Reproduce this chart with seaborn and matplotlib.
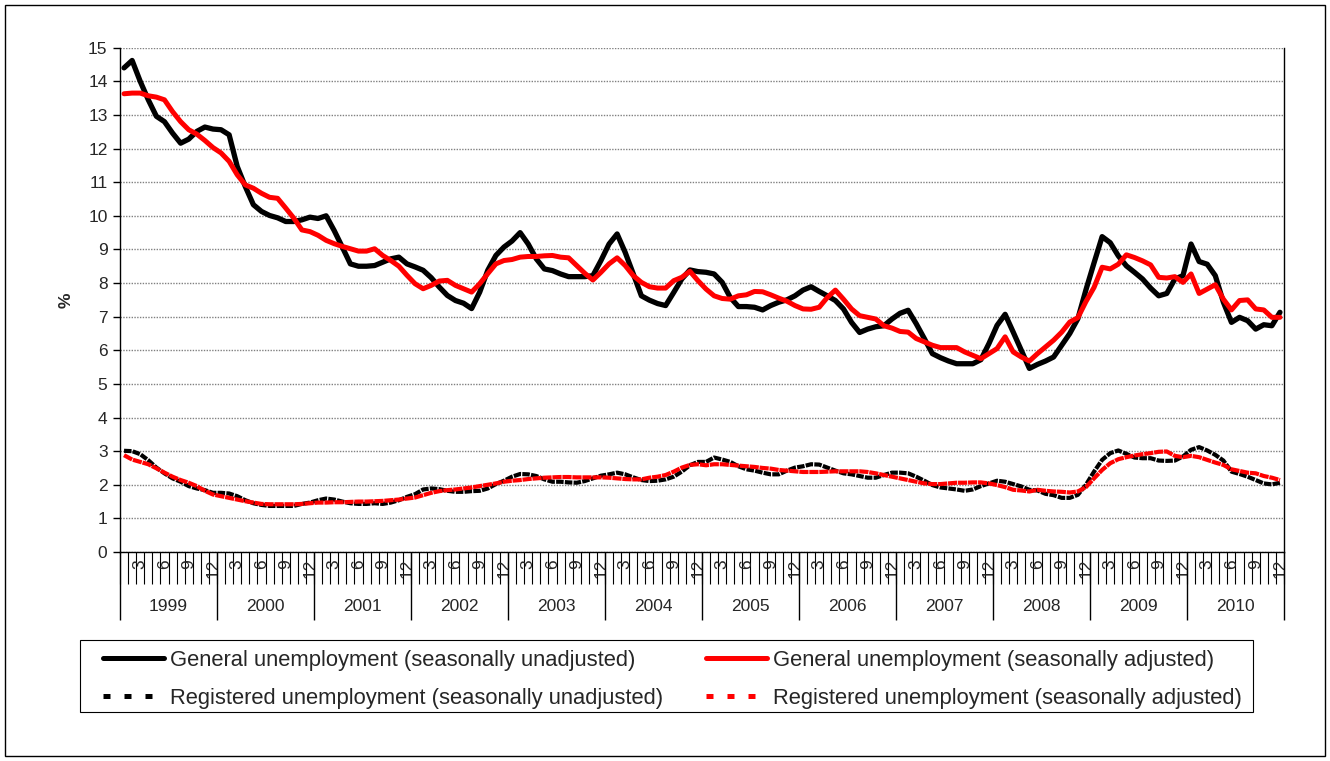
import numpy as np
import pandas as pd
import matplotlib.pyplot as plt
import seaborn as sns
from matplotlib.lines import Line2D
from matplotlib.patches import Rectangle

# Monthly unemployment rates 1999-2010 (%)

years = list(range(1999, 2011))
month_labels = [3, 6, 9, 12]

general_unadj = [
    14.4, 14.62, 14.0, 13.45, 12.96, 12.8, 12.46, 12.16, 12.28, 12.51, 12.64, 12.58,
    12.56, 12.41, 11.47, 10.87, 10.33, 10.13, 10.01, 9.94, 9.83, 9.83, 9.88, 9.96,
    9.92, 10.0, 9.56, 9.07, 8.57, 8.5, 8.5, 8.52, 8.62, 8.72, 8.77, 8.57,
    8.48, 8.38, 8.16, 7.88, 7.63, 7.48, 7.4, 7.24, 7.73, 8.38, 8.82, 9.07,
    9.25, 9.5, 9.16, 8.72, 8.42, 8.37, 8.27, 8.19, 8.19, 8.19, 8.22, 8.67,
    9.16, 9.46, 8.91, 8.27, 7.62, 7.49, 7.39, 7.33, 7.72, 8.12, 8.39, 8.34,
    8.32, 8.27, 8.02, 7.57, 7.3, 7.3, 7.28, 7.2, 7.33, 7.43, 7.5, 7.62,
    7.79, 7.89, 7.75, 7.62, 7.48, 7.23, 6.83, 6.53, 6.63, 6.7, 6.73, 6.93,
    7.1, 7.19, 6.79, 6.35, 5.9, 5.78, 5.68, 5.6, 5.6, 5.6, 5.72, 6.2,
    6.74, 7.07, 6.54, 6.0, 5.46, 5.58, 5.68, 5.8, 6.15, 6.5, 6.94, 7.8,
    8.6, 9.38, 9.2, 8.81, 8.51, 8.32, 8.12, 7.85, 7.62, 7.69, 8.12, 8.22,
    9.16, 8.64, 8.56, 8.22, 7.43, 6.83, 6.98, 6.88, 6.63, 6.76, 6.73, 7.13,
]

general_adj = [
    13.63, 13.65, 13.65, 13.57, 13.53, 13.45, 13.1, 12.8, 12.56, 12.43, 12.24, 12.03,
    11.87, 11.62, 11.22, 10.92, 10.82, 10.67, 10.55, 10.52, 10.23, 9.93, 9.58, 9.53,
    9.42, 9.27, 9.17, 9.09, 9.02, 8.95, 8.95, 9.02, 8.82, 8.67, 8.5, 8.23,
    7.98, 7.83, 7.93, 8.06, 8.08, 7.93, 7.83, 7.73, 7.98, 8.28, 8.57, 8.67,
    8.7, 8.77, 8.79, 8.79, 8.81, 8.82, 8.77, 8.75, 8.52, 8.29, 8.09, 8.32,
    8.57, 8.75, 8.52, 8.22, 8.02, 7.89, 7.85, 7.85, 8.07, 8.17, 8.35, 8.07,
    7.82, 7.62, 7.54, 7.52, 7.62, 7.65, 7.75, 7.74, 7.65, 7.55, 7.46, 7.33,
    7.23, 7.22, 7.28, 7.57, 7.79, 7.52, 7.23, 7.03, 6.98, 6.93, 6.73, 6.66,
    6.56, 6.54, 6.35, 6.25, 6.15, 6.08, 6.08, 6.08, 5.95, 5.85, 5.75, 5.9,
    6.05, 6.4, 5.95, 5.8, 5.68, 5.9, 6.1, 6.3, 6.54, 6.84, 6.97, 7.45,
    7.87, 8.47, 8.42, 8.56, 8.84, 8.76, 8.66, 8.54, 8.17, 8.15, 8.19, 8.02,
    8.27, 7.69, 7.82, 7.95, 7.52, 7.2, 7.48, 7.5, 7.23, 7.2, 6.98, 6.98,
]

registered_unadj = [
    3.01, 3.0, 2.91, 2.73, 2.51, 2.34, 2.19, 2.09, 1.96, 1.89, 1.84, 1.76,
    1.76, 1.74, 1.66, 1.54, 1.45, 1.4, 1.37, 1.37, 1.37, 1.37, 1.43, 1.47,
    1.54, 1.59, 1.56, 1.5, 1.45, 1.43, 1.43, 1.45, 1.43, 1.47, 1.54, 1.64,
    1.72, 1.86, 1.89, 1.87, 1.82, 1.79, 1.79, 1.81, 1.82, 1.89, 2.02, 2.12,
    2.24, 2.32, 2.31, 2.26, 2.16, 2.09, 2.09, 2.07, 2.06, 2.11, 2.19, 2.27,
    2.31, 2.36, 2.31, 2.22, 2.14, 2.11, 2.12, 2.16, 2.24, 2.39, 2.58, 2.68,
    2.68, 2.81, 2.75, 2.68, 2.55, 2.46, 2.42, 2.36, 2.31, 2.31, 2.42, 2.51,
    2.55, 2.61, 2.6, 2.51, 2.42, 2.34, 2.31, 2.26, 2.21, 2.21, 2.29, 2.36,
    2.36, 2.34, 2.24, 2.12, 1.99, 1.92, 1.89, 1.86, 1.82, 1.86, 1.96, 2.04,
    2.12, 2.09, 2.02, 1.95, 1.85, 1.83, 1.73, 1.69, 1.61, 1.61, 1.7, 2.0,
    2.39, 2.74, 2.94, 3.02, 2.92, 2.81, 2.79, 2.79, 2.72, 2.71, 2.72, 2.84,
    3.04, 3.12, 3.02, 2.89, 2.72, 2.39, 2.32, 2.24, 2.14, 2.04, 2.01, 2.06,
]

registered_adj = [
    2.88, 2.75, 2.68, 2.61, 2.49, 2.36, 2.24, 2.14, 2.06, 1.96, 1.82, 1.71,
    1.66, 1.61, 1.56, 1.51, 1.47, 1.43, 1.42, 1.42, 1.42, 1.42, 1.43, 1.45,
    1.47, 1.47, 1.48, 1.48, 1.49, 1.5, 1.5, 1.51, 1.52, 1.54, 1.56, 1.59,
    1.62, 1.69, 1.76, 1.81, 1.84, 1.86, 1.89, 1.92, 1.96, 2.0, 2.04, 2.09,
    2.12, 2.14, 2.17, 2.19, 2.21, 2.22, 2.23, 2.23, 2.22, 2.22, 2.22, 2.22,
    2.21, 2.19, 2.17, 2.16, 2.16, 2.21, 2.24, 2.29, 2.39, 2.51, 2.59, 2.61,
    2.58, 2.61, 2.61, 2.59, 2.57, 2.55, 2.53, 2.5, 2.48, 2.44, 2.42, 2.4,
    2.38, 2.38, 2.38, 2.39, 2.4, 2.4, 2.4, 2.4, 2.38, 2.34, 2.29, 2.24,
    2.19, 2.14, 2.09, 2.04, 2.02, 2.02, 2.04, 2.06, 2.06, 2.07, 2.07, 2.04,
    1.99, 1.93, 1.85, 1.83, 1.8, 1.85, 1.82, 1.8, 1.79, 1.77, 1.8, 1.93,
    2.19, 2.44, 2.64, 2.76, 2.82, 2.87, 2.91, 2.94, 2.98, 2.99, 2.86, 2.82,
    2.86, 2.82, 2.74, 2.66, 2.59, 2.46, 2.41, 2.36, 2.34, 2.26, 2.21, 2.14,
]

legend_labels = [
    "General unemployment (seasonally unadjusted)",
    "Registered unemployment (seasonally unadjusted)",
    "General unemployment (seasonally adjusted)",
    "Registered unemployment (seasonally adjusted)",
]

# long table: one row per month
df = pd.DataFrame({
    "year": np.repeat(years, 12),
    "month": np.tile(np.arange(1, 13), len(years)),
    "general_unadj": general_unadj,
    "general_adj": general_adj,
    "registered_unadj": registered_unadj,
    "registered_adj": registered_adj,
})
# category slot of each month, centred in its slot
df["pos"] = (df["year"] - years[0]) * 12 + df["month"] - 0.5
n_months = len(df)

sns.set_style("white")
plt.rcParams["font.family"] = ["Liberation Sans", "DejaVu Sans"]

W, H = 1330, 761
fig = plt.figure(figsize=(W / 100, H / 100), dpi=100)
ax_l, ax_r, ax_t, ax_b = 120, 1284, 47.7, 552
ax = fig.add_axes([ax_l / W, 1 - ax_b / H, (ax_r - ax_l) / W, (ax_b - ax_t) / H])

# series
sns.lineplot(data=df, x="pos", y="general_unadj", color="black", linewidth=3.8, ax=ax)
sns.lineplot(data=df, x="pos", y="general_adj", color="#ff0000", linewidth=3.6, ax=ax)
sns.lineplot(data=df, x="pos", y="registered_unadj", color="black", linewidth=3.0,
             linestyle=(0, (1.8, 0.3)), ax=ax)
sns.lineplot(data=df, x="pos", y="registered_adj", color="#ff0000", linewidth=3.0,
             linestyle=(0, (2.2, 0.2)), ax=ax)

ax.set_xlim(0, n_months)
ax.set_ylim(0, 15)
ax.set_xlabel("")
ax.set_ylabel("%", fontsize=12.5, fontweight="bold")
ax.yaxis.set_label_coords(-0.04, 0.5)

# y axis
ax.set_yticks(range(0, 16))
ax.tick_params(axis="y", direction="out", length=5, width=1, color="black",
               labelsize=12.5, pad=4, left=True)
ax.grid(axis="y", color="#808080", linestyle=(0, (1, 1)), linewidth=1)
ax.grid(axis="x", visible=False)

# x axis: tick at every month boundary, labels 3/6/9/12 in the slots
ax.set_xticks(np.arange(0, n_months + 1))
ax.set_xticklabels([])
ax.tick_params(axis="x", which="major", direction="out", length=23, width=0.8,
               color="black", bottom=True)
lab = df[df["month"].isin(month_labels)]
ax.set_xticks(lab["pos"], minor=True)
ax.set_xticklabels(lab["month"].astype(str), minor=True, rotation=90, fontsize=12.5)
ax.tick_params(axis="x", which="minor", length=0, pad=5)

# year separators and year names under the months
tr = ax.get_xaxis_transform()
ax.vlines(np.arange(0, n_months + 1, 12), -0.135, 0, transform=tr, color="black",
          linewidth=1, clip_on=False)
for k, yr in enumerate(years):
    ax.text(k * 12 + 6, -0.109, str(yr), transform=tr, ha="center", va="center",
            fontsize=12.5)

ax.spines["top"].set_visible(False)
for side in ["left", "bottom", "right"]:
    ax.spines[side].set_visible(True)
    ax.spines[side].set_color("black")
    ax.spines[side].set_linewidth(1)

# legend
handles = [
    Line2D([], [], color="black", linewidth=3.6),
    Line2D([], [], color="black", linewidth=3.6, linestyle=(0, (1.4, 2.8))),
    Line2D([], [], color="#ff0000", linewidth=3.6),
    Line2D([], [], color="#ff0000", linewidth=3.6, linestyle=(0, (1.4, 2.8))),
]
fig.legend(handles, legend_labels, ncol=2, loc="upper left",
           bbox_to_anchor=(103 / W, 1 - 650 / H), frameon=False, fontsize=15.8,
           borderpad=0, borderaxespad=0, handlelength=2.8, handletextpad=0.25,
           columnspacing=1.95, labelspacing=0.78)
fig.patches.append(Rectangle((80 / W, 1 - 712 / H), (1253 - 80) / W, (712 - 640) / H,
                             transform=fig.transFigure, fill=False, edgecolor="black",
                             linewidth=0.8))

# outer chart border
fig.patches.append(Rectangle((5 / W, 5 / H), (1325 - 5) / W, (756 - 5) / H,
                             transform=fig.transFigure, fill=False, edgecolor="black",
                             linewidth=1))

fig.savefig("out.png", dpi=100)
